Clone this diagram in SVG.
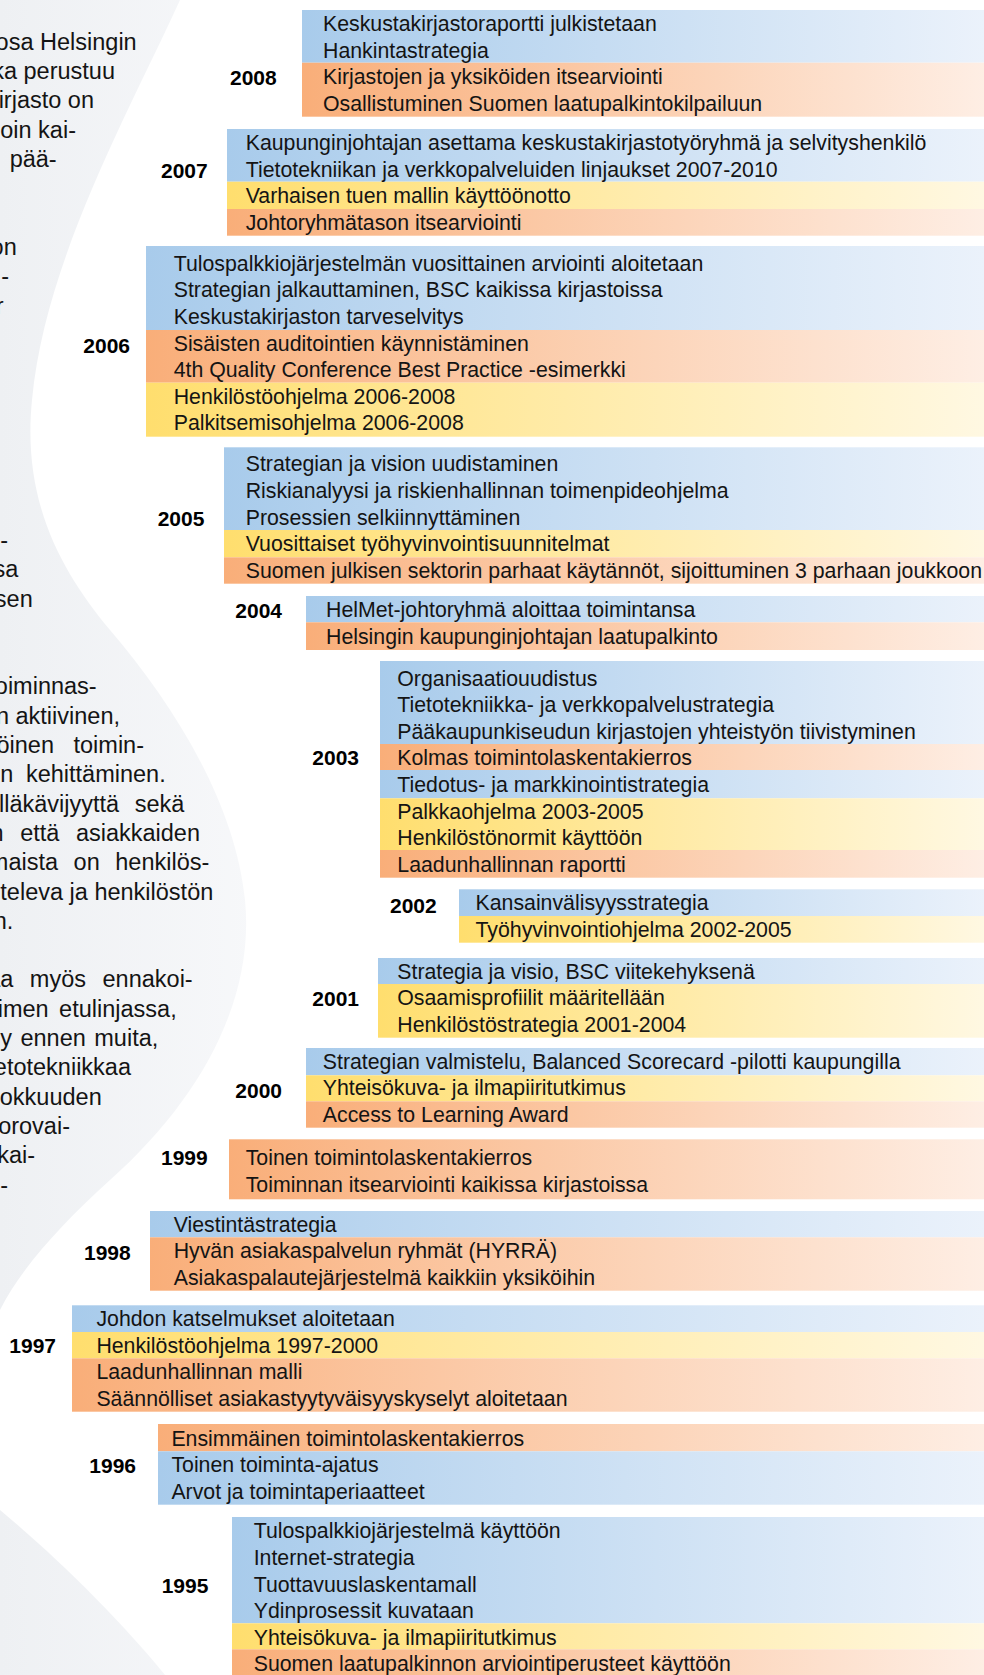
<svg xmlns="http://www.w3.org/2000/svg" width="984" height="1675" viewBox="0 0 984 1675">
<defs>
<linearGradient id="gB" x1="0" y1="0" x2="1" y2="0"><stop offset="0" stop-color="#A8CBEB"/><stop offset="1" stop-color="#EBF2FB"/></linearGradient>
<linearGradient id="gO" x1="0" y1="0" x2="1" y2="0"><stop offset="0" stop-color="#F9AE79"/><stop offset="1" stop-color="#FEEEE4"/></linearGradient>
<linearGradient id="gY" x1="0" y1="0" x2="1" y2="0"><stop offset="0" stop-color="#FFDE6E"/><stop offset="1" stop-color="#FFF8E2"/></linearGradient>
<linearGradient id="gG" gradientUnits="userSpaceOnUse" x1="0" y1="0" x2="260" y2="0"><stop offset="0" stop-color="#EEF0F3"/><stop offset="1" stop-color="#F7F8FA"/></linearGradient>
<style>
.b{fill:url(#gB)}.o{fill:url(#gO)}.w{fill:url(#gY)}
.t{font-family:"Liberation Sans",Arial,sans-serif;font-size:21.3px;fill:#141414}
.y{font-family:"Liberation Sans",Arial,sans-serif;font-size:21px;font-weight:bold;fill:#000}
.p{font-family:"Liberation Sans",Arial,sans-serif;font-size:23.5px;fill:#141414;text-anchor:end}
</style>
</defs>
<rect x="0" y="0" width="984" height="1675" fill="#fff"/>
<g id="background">
<path d="M0,0 H180 C130,110 45,260 32,400 C22,500 60,570 110,630 C170,700 235,800 245,900 C255,1000 200,1100 110,1180 C60,1225 20,1270 0,1310 Z" fill="url(#gG)"/>
<path d="M0,1510 C60,1560 120,1620 165,1675 H0 Z" fill="url(#gG)"/>
</g>
<g id="paragraph">
<text class="p" x="136.7" y="49.8">osa Helsingin</text>
<text class="p" x="115" y="79.1">ka perustuu</text>
<text class="p" x="94" y="108.4">kirjasto on</text>
<text class="p" x="76" y="137.7">oin kai-</text>
<text class="p" x="56.7" y="167">pää-</text>
<text class="p" x="16.7" y="254.9">on</text>
<text class="p" x="9" y="284.2">-</text>
<text class="p" x="3.5" y="313.5">r</text>
<text class="p" x="8" y="547.9">-</text>
<text class="p" x="18.3" y="577.2">sa</text>
<text class="p" x="32.7" y="606.5">sen</text>
<text class="p" x="96.7" y="694.4">oiminnas-</text>
<text class="p" x="120" y="723.7">n aktiivinen,</text>
<text class="p" x="144" y="753" word-spacing="13">öinen toimin-</text>
<text class="p" x="165.7" y="782.3" word-spacing="6">n kehittäminen.</text>
<text class="p" x="184.3" y="811.6" word-spacing="9">lläkävijyyttä sekä</text>
<text class="p" x="200" y="840.9" word-spacing="10">n että asiakkaiden</text>
<text class="p" x="209.3" y="870.2" word-spacing="9">maista on henkilös-</text>
<text class="p" x="213.3" y="899.5">televa ja henkilöstön</text>
<text class="p" x="13.3" y="928.8">n.</text>
<text class="p" x="192.7" y="987.4" word-spacing="10">aa myös ennakoi-</text>
<text class="p" x="176.7" y="1016.7" word-spacing="4">imen etulinjassa,</text>
<text class="p" x="158.3" y="1046" word-spacing="2">y ennen muita,</text>
<text class="p" x="131" y="1075.3">etotekniikkaa</text>
<text class="p" x="101.7" y="1104.6">okkuuden</text>
<text class="p" x="70" y="1133.9">orovai-</text>
<text class="p" x="35" y="1163.2">kai-</text>
<text class="p" x="8" y="1192.5">-</text>
</g>
<g id="connectors"/>
<g id="y2008">
<rect class="b" x="302" y="10" width="682" height="52.7"/>
<rect class="o" x="302" y="62.7" width="682" height="54"/>
<text class="y" x="230" y="84.5">2008</text>
<text class="t" x="323" y="31">Keskustakirjastoraportti julkistetaan</text>
<text class="t" x="323" y="57.6">Hankintastrategia</text>
<text class="t" x="323" y="84.2">Kirjastojen ja yksiköiden itsearviointi</text>
<text class="t" x="323" y="110.8">Osallistuminen Suomen laatupalkintokilpailuun</text>
</g>
<g id="y2007">
<rect class="b" x="227" y="129" width="757" height="52.7"/>
<rect class="w" x="227" y="181.7" width="757" height="27.3"/>
<rect class="o" x="227" y="209" width="757" height="26.7"/>
<text class="y" x="161" y="178">2007</text>
<text class="t" x="245.7" y="150">Kaupunginjohtajan asettama keskustakirjastotyöryhmä ja selvityshenkilö</text>
<text class="t" x="245.7" y="176.6">Tietotekniikan ja verkkopalveluiden linjaukset 2007-2010</text>
<text class="t" x="245.7" y="203.2">Varhaisen tuen mallin käyttöönotto</text>
<text class="t" x="245.7" y="229.8">Johtoryhmätason itsearviointi</text>
</g>
<g id="y2006">
<rect class="b" x="146" y="246" width="838" height="84"/>
<rect class="o" x="146" y="330" width="838" height="52.7"/>
<rect class="w" x="146" y="382.7" width="838" height="54"/>
<text class="y" x="83.3" y="352.5">2006</text>
<text class="t" x="173.7" y="270.7">Tulospalkkiojärjestelmän vuosittainen arviointi aloitetaan</text>
<text class="t" x="173.7" y="297.3">Strategian jalkauttaminen, BSC kaikissa kirjastoissa</text>
<text class="t" x="173.7" y="323.9">Keskustakirjaston tarveselvitys</text>
<text class="t" x="173.7" y="350.5">Sisäisten auditointien käynnistäminen</text>
<text class="t" x="173.7" y="377.1">4th Quality Conference Best Practice -esimerkki</text>
<text class="t" x="173.7" y="403.7">Henkilöstöohjelma 2006-2008</text>
<text class="t" x="173.7" y="430.3">Palkitsemisohjelma 2006-2008</text>
</g>
<g id="y2005">
<rect class="b" x="224" y="447.3" width="760" height="82.7"/>
<rect class="w" x="224" y="530" width="760" height="27.3"/>
<rect class="o" x="224" y="557.3" width="760" height="26.4"/>
<text class="y" x="157.7" y="525.8">2005</text>
<text class="t" x="245.7" y="471.3">Strategian ja vision uudistaminen</text>
<text class="t" x="245.7" y="497.9">Riskianalyysi ja riskienhallinnan toimenpideohjelma</text>
<text class="t" x="245.7" y="524.5">Prosessien selkiinnyttäminen</text>
<text class="t" x="245.7" y="551.1">Vuosittaiset työhyvinvointisuunnitelmat</text>
<text class="t" x="245.7" y="577.7">Suomen julkisen sektorin parhaat käytännöt, sijoittuminen 3 parhaan joukkoon</text>
</g>
<g id="y2004">
<rect class="b" x="306" y="596" width="678" height="26.3"/>
<rect class="o" x="306" y="622.3" width="678" height="27.7"/>
<text class="y" x="235.3" y="618.2">2004</text>
<text class="t" x="326" y="617.4">HelMet-johtoryhmä aloittaa toimintansa</text>
<text class="t" x="326" y="644">Helsingin kaupunginjohtajan laatupalkinto</text>
</g>
<g id="y2003">
<rect class="b" x="380" y="661" width="604" height="83"/>
<rect class="o" x="380" y="744" width="604" height="26"/>
<rect class="b" x="380" y="770" width="604" height="28.3"/>
<rect class="w" x="380" y="798.3" width="604" height="51.7"/>
<rect class="o" x="380" y="850" width="604" height="27.7"/>
<text class="y" x="312.3" y="764.8">2003</text>
<text class="t" x="397.3" y="685.5">Organisaatiouudistus</text>
<text class="t" x="397.3" y="712.1">Tietotekniikka- ja verkkopalvelustrategia</text>
<text class="t" x="397.3" y="738.7">Pääkaupunkiseudun kirjastojen yhteistyön tiivistyminen</text>
<text class="t" x="397.3" y="765.3">Kolmas toimintolaskentakierros</text>
<text class="t" x="397.3" y="791.9">Tiedotus- ja markkinointistrategia</text>
<text class="t" x="397.3" y="818.5">Palkkaohjelma 2003-2005</text>
<text class="t" x="397.3" y="845.1">Henkilöstönormit käyttöön</text>
<text class="t" x="397.3" y="871.7">Laadunhallinnan raportti</text>
</g>
<g id="y2002">
<rect class="b" x="459" y="889.3" width="525" height="26.7"/>
<rect class="w" x="459" y="916" width="525" height="26.7"/>
<text class="y" x="390" y="912.5">2002</text>
<text class="t" x="475.5" y="910.1">Kansainvälisyysstrategia</text>
<text class="t" x="475.5" y="936.7">Työhyvinvointiohjelma 2002-2005</text>
</g>
<g id="y2001">
<rect class="b" x="378" y="958" width="606" height="26"/>
<rect class="w" x="378" y="984" width="606" height="53.7"/>
<text class="y" x="312.3" y="1005.8">2001</text>
<text class="t" x="397.3" y="978.5">Strategia ja visio, BSC viitekehyksenä</text>
<text class="t" x="397.3" y="1005.1">Osaamisprofiilit määritellään</text>
<text class="t" x="397.3" y="1031.7">Henkilöstöstrategia 2001-2004</text>
</g>
<g id="y2000">
<rect class="b" x="306" y="1048" width="678" height="27.3"/>
<rect class="w" x="306" y="1075.3" width="678" height="26"/>
<rect class="o" x="306" y="1101.3" width="678" height="26.4"/>
<text class="y" x="235.3" y="1098.2">2000</text>
<text class="t" x="322.8" y="1068.5">Strategian valmistelu, Balanced Scorecard -pilotti kaupungilla</text>
<text class="t" x="322.8" y="1095.1">Yhteisökuva- ja ilmapiiritutkimus</text>
<text class="t" x="322.8" y="1121.7">Access to Learning Award</text>
</g>
<g id="y1999">
<rect class="o" x="229" y="1139.3" width="755" height="60"/>
<text class="y" x="161" y="1165.2">1999</text>
<text class="t" x="245.7" y="1165.2">Toinen toimintolaskentakierros</text>
<text class="t" x="245.7" y="1191.8">Toiminnan itsearviointi kaikissa kirjastoissa</text>
</g>
<g id="y1998">
<rect class="b" x="150" y="1211" width="834" height="26.3"/>
<rect class="o" x="150" y="1237.3" width="834" height="53.4"/>
<text class="y" x="84" y="1259.8">1998</text>
<text class="t" x="173.7" y="1231.5">Viestintästrategia</text>
<text class="t" x="173.7" y="1258.1">Hyvän asiakaspalvelun ryhmät (HYRRÄ)</text>
<text class="t" x="173.7" y="1284.7">Asiakaspalautejärjestelmä kaikkiin yksiköihin</text>
</g>
<g id="y1997">
<rect class="b" x="72" y="1305.3" width="912" height="26.7"/>
<rect class="w" x="72" y="1332" width="912" height="26.3"/>
<rect class="o" x="72" y="1358.3" width="912" height="53.4"/>
<text class="y" x="9.3" y="1352.5">1997</text>
<text class="t" x="96.4" y="1325.9">Johdon katselmukset aloitetaan</text>
<text class="t" x="96.4" y="1352.5">Henkilöstöohjelma 1997-2000</text>
<text class="t" x="96.4" y="1379.1">Laadunhallinnan malli</text>
<text class="t" x="96.4" y="1405.7">Säännölliset asiakastyytyväisyyskyselyt aloitetaan</text>
</g>
<g id="y1996">
<rect class="o" x="158" y="1424" width="826" height="27.3"/>
<rect class="b" x="158" y="1451.3" width="826" height="53.4"/>
<text class="y" x="89.3" y="1472.5">1996</text>
<text class="t" x="171.4" y="1445.5">Ensimmäinen toimintolaskentakierros</text>
<text class="t" x="171.4" y="1472.1">Toinen toiminta-ajatus</text>
<text class="t" x="171.4" y="1498.7">Arvot ja toimintaperiaatteet</text>
</g>
<g id="y1995">
<rect class="b" x="232" y="1517" width="752" height="106.3"/>
<rect class="w" x="232" y="1623.3" width="752" height="26"/>
<rect class="o" x="232" y="1649.3" width="752" height="26.7"/>
<text class="y" x="161.7" y="1592.5">1995</text>
<text class="t" x="253.7" y="1538.3">Tulospalkkiojärjestelmä käyttöön</text>
<text class="t" x="253.7" y="1564.9">Internet-strategia</text>
<text class="t" x="253.7" y="1591.5">Tuottavuuslaskentamall</text>
<text class="t" x="253.7" y="1618.1">Ydinprosessit kuvataan</text>
<text class="t" x="253.7" y="1644.7">Yhteisökuva- ja ilmapiiritutkimus</text>
<text class="t" x="253.7" y="1671.3">Suomen laatupalkinnon arviointiperusteet käyttöön</text>
</g>
</svg>
